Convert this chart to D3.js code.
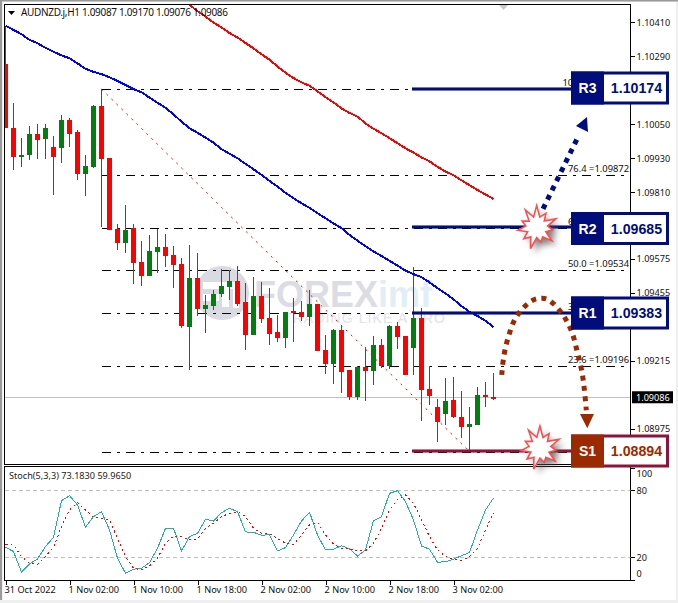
<!DOCTYPE html>
<html><head><meta charset="utf-8">
<script src="https://cdn.jsdelivr.net/npm/d3@7/dist/d3.min.js"></script>
<style>
html,body{margin:0;padding:0;background:#fff;overflow:hidden}
svg{display:block}
text{font-family:"Noto Sans",Tahoma,sans-serif}
</style></head><body><div id="chart"></div>
<script>
const opens=[1.10263,1.10037,1.09934,1.09941,1.10016,1.09998,1.09970,1.09966,1.10065,1.10023,1.09874,1.09899,1.10114,1.09931,1.09680,1.09631,1.09684,1.09564,1.09514,1.09599,1.09617,1.09588,1.09556,1.09334,1.09507,1.09398,1.09408,1.09451,1.09475,1.09496,1.09422,1.09306,1.09443,1.09366,1.09316,1.09295,1.09391,1.09387,1.09369,1.09415,1.09253,1.09203,1.09324,1.09182,1.09087,1.09193,1.09179,1.09271,1.09196,1.09338,1.09302,1.09260,1.09366,1.09115,1.09052,1.09027,1.09076,1.09016,1.08981,1.08988,1.09094,1.09087];
const highs=[1.10393,1.10125,1.10001,1.10044,1.10051,1.10051,1.10008,1.10083,1.10072,1.10030,1.09941,1.10118,1.10174,1.09931,1.09698,1.09765,1.09698,1.09638,1.09659,1.09680,1.09662,1.09620,1.09578,1.09624,1.09595,1.09447,1.09465,1.09539,1.09535,1.09549,1.09489,1.09511,1.09493,1.09472,1.09376,1.09387,1.09436,1.09426,1.09465,1.09415,1.09306,1.09327,1.09341,1.09182,1.09196,1.09263,1.09302,1.09292,1.09341,1.09352,1.09302,1.09546,1.09401,1.09196,1.09080,1.09154,1.09158,1.09108,1.09052,1.09122,1.09140,1.09170];
const lows=[1.10037,1.09888,1.09899,1.09924,1.09927,1.09927,1.09800,1.09913,1.09970,1.09853,1.09797,1.09896,1.09687,1.09677,1.09606,1.09595,1.09486,1.09479,1.09514,1.09525,1.09546,1.09472,1.09331,1.09182,1.09373,1.09313,1.09394,1.09440,1.09429,1.09408,1.09253,1.09306,1.09348,1.09271,1.09281,1.09260,1.09281,1.09355,1.09338,1.09249,1.09168,1.09133,1.09101,1.09076,1.09076,1.09073,1.09129,1.09189,1.09186,1.09256,1.09165,1.09165,1.09002,1.09059,1.08928,1.08988,1.09013,1.08942,1.08894,1.08988,1.09052,1.09076];
const closes=[1.10037,1.09934,1.09941,1.10016,1.09994,1.10037,1.09934,1.10065,1.10016,1.09874,1.09903,1.10114,1.09927,1.09677,1.09631,1.09677,1.09560,1.09514,1.09602,1.09617,1.09585,1.09553,1.09338,1.09507,1.09398,1.09412,1.09451,1.09479,1.09496,1.09415,1.09306,1.09443,1.09362,1.09309,1.09295,1.09387,1.09384,1.09369,1.09415,1.09249,1.09203,1.09324,1.09175,1.09087,1.09193,1.09179,1.09271,1.09196,1.09338,1.09299,1.09165,1.09366,1.09112,1.09090,1.08999,1.09073,1.09016,1.08981,1.08992,1.09094,1.09087,1.09086];
const maBlue=[1.10398,1.10383,1.10368,1.10348,1.10336,1.10320,1.10306,1.10293,1.10283,1.10265,1.10246,1.10235,1.10227,1.10216,1.10203,1.10189,1.10174,1.10163,1.10144,1.10126,1.10108,1.10085,1.10059,1.10036,1.10020,1.10003,1.09985,1.09962,1.09946,1.09930,1.09910,1.09891,1.09871,1.09850,1.09830,1.09808,1.09789,1.09771,1.09755,1.09736,1.09718,1.09700,1.09683,1.09659,1.09639,1.09619,1.09601,1.09585,1.09568,1.09551,1.09533,1.09521,1.09510,1.09492,1.09471,1.09453,1.09432,1.09408,1.09388,1.09373,1.09356,1.09334];
const maRedStart=22;
const maRed=[1.10495,1.10472,1.10449,1.10430,1.10409,1.10392,1.10372,1.10356,1.10337,1.10318,1.10297,1.10278,1.10254,1.10232,1.10213,1.10198,1.10186,1.10166,1.10146,1.10127,1.10106,1.10090,1.10077,1.10053,1.10034,1.10018,1.10001,1.09983,1.09965,1.09950,1.09933,1.09919,1.09900,1.09883,1.09870,1.09852,1.09835,1.09818,1.09802,1.09786];
const stochMain=[29,25.1,6.6,14,18.5,29.6,37.9,70.7,75.2,66.9,46.9,56.4,60.9,44.5,19.1,5.7,9.3,10.1,15.2,28.1,46,46,25.7,38.5,41.5,54,52.5,60,63.9,60.9,42.7,42.4,39.7,40.3,25.7,28.7,40,52.5,60.3,40,26.6,27.2,30.4,27.5,21.2,26.6,52.8,56.4,77.3,79.7,69.9,53.4,30.1,27.2,15.5,16.1,18.2,21.5,24.2,44.5,62.4,73.18];
const stochSignal=[31.3,31,20.6,14.6,13.7,20.6,29,47.5,62.4,69,62.4,55.8,54.9,53.4,37,20.6,10.1,8.7,12.2,19.1,32.5,39.1,38.5,35.5,36.1,46,50.4,56.4,59.4,60.9,56.4,46,41.5,40.9,37,32.5,31.6,40,49,51.3,40,31.9,28.1,27.5,26,25.7,32.5,46,62.4,71.9,75.8,68.4,53.4,38.5,26.6,20.6,18.2,17,20.6,28.1,44.5,59.97];
const priceTicks=[1.10410,1.10290,1.10050,1.09930,1.09810,1.09575,1.09455,1.09215,1.08975];
const stochTicks=[100,80,20,0];
const timeBars=[0,8,16,24,32,40,48,56];
const timeLabels=["31 Oct 2022","1 Nov 02:00","1 Nov 10:00","1 Nov 18:00","2 Nov 02:00","2 Nov 10:00","2 Nov 18:00","3 Nov 02:00"];
const fibPrices=[1.10174,1.09872,1.09685,1.09534,1.09383,1.09196,1.08894];
const fibLabels=["10","76.4 =1.09872","6","50.0 =1.09534","3","23.6 =1.09196",""];
const levelNames=["R3","R2","R1","S1"];
const levelPrices=[1.10174,1.09685,1.09383,1.08894];
const currentPrice=1.09086;
const upArrowBars=[67.19,71.56];
const upArrowPrices=[1.09751,1.10005];
const upHeadBars=[72.69,71.31,72.81];
const upHeadPrices=[1.10076,1.10044,1.10023];
const curveBars=[62.03,62.31,62.9,63.81,65.53,66.65,67.81,69.6,70.78,71.44,72.03,72.35,72.6];
const curvePrices=[1.09165,1.09235,1.09303,1.09368,1.09422,1.09435,1.09431,1.09380,1.09317,1.09250,1.09179,1.09114,1.09040];
const downHeadBars=[71.81,73.56,72.72];
const downHeadPrices=[1.09027,1.09027,1.08977];
const starRadii=[22,11,17,10,21,11,16,10,20,11,15,10,22,11,17,10,19,11,16,10,21,11];

const W=678,H=603,L=4.5,R=630.5,T=4.5,B=464.5,ST=466.5,SB=580.5;
const NAVY="#000d7a",MAROON="#8c1438",RUST="#9c2a00";
const x=d3.scaleLinear().domain([0,61]).range([5.5,493.5]);
const y=d3.scaleLinear().domain([1.10410,1.08975]).range([22.3,428.7]);
const ys=d3.scaleLinear().domain([0,100]).range([579.6,468]);
const svg=d3.select("#chart").append("svg").attr("width",W).attr("height",H);
const defs=svg.append("defs");
defs.append("clipPath").attr("id","mainClip").append("rect").attr("x",L).attr("y",T).attr("width",R-L).attr("height",B-T);
defs.append("clipPath").attr("id","stochClip").append("rect").attr("x",L).attr("y",ST).attr("width",R-L).attr("height",SB-ST);
defs.append("filter").attr("id","blur").attr("x","-40%").attr("y","-40%").attr("width","180%").attr("height","180%")
  .append("feGaussianBlur").attr("stdDeviation",3);

svg.append("rect").attr("width",W).attr("height",H).attr("fill","#efefef");
svg.append("rect").attr("x",3).attr("y",2).attr("width",673).attr("height",598).attr("fill","#fff");
svg.append("rect").attr("width",W).attr("height",1.5).attr("fill","#9a9a9a");
svg.append("rect").attr("width",2).attr("height",H-3).attr("fill","#9a9a9a");

const main=svg.append("g").attr("clip-path","url(#mainClip)");
// watermark
const wm=main.append("g");
wm.append("circle").attr("cx",222).attr("cy",293).attr("r",27).attr("fill","#dadae2");
wm.append("rect").attr("x",203).attr("y",282).attr("width",36).attr("height",7).attr("fill","#fff");
wm.append("rect").attr("x",203).attr("y",294).attr("width",16).attr("height",7).attr("fill","#fff");
wm.append("rect").attr("x",222).attr("y",289).attr("width",7).attr("height",18).attr("fill","#fff");
wm.append("rect").attr("x",233).attr("y",289).attr("width",6).attr("height",19).attr("fill","#fff");
const wt=wm.append("text").attr("x",254).attr("y",307).attr("font-size",36).attr("font-weight",700)
  .style("font-family","'Liberation Sans',sans-serif").attr("fill","#dcdce4");
wt.append("tspan").text("FOREX");
wt.append("tspan").attr("fill","#e2eef6").text("imf");
wm.append("text").attr("x",283).attr("y",323).attr("font-size",14).attr("letter-spacing",1.1)
  .style("font-family","'Liberation Sans',sans-serif").attr("fill","#e2e2e8").text("TRADING LIKE A PRO");

main.append("line").attr("x1",L).attr("x2",R).attr("y1",y(currentPrice)).attr("y2",y(currentPrice))
  .attr("stroke","#c0c0c0").attr("stroke-width",1).attr("shape-rendering","crispEdges");

// fibonacci
main.append("line").attr("x1",x(12)).attr("y1",y(fibPrices[0])).attr("x2",x(58)).attr("y2",y(fibPrices[6]))
  .attr("stroke","#f00").attr("stroke-width",1).attr("stroke-dasharray","2 5");
main.selectAll("line.fib").data(fibPrices).join("line").attr("class","fib")
  .attr("x1",x(12)).attr("x2",628.5).attr("y1",d=>Math.round(y(d))+.5).attr("y2",d=>Math.round(y(d))+.5)
  .attr("stroke","#000").attr("stroke-width",1).attr("stroke-dasharray","9 6 3 6").attr("shape-rendering","crispEdges");
main.selectAll("text.fibl").data(fibPrices).join("text").attr("class","fibl")
  .attr("x",(d,i)=>i==0?562.5:568).attr("y",d=>y(d)-3).attr("font-size",9.4).attr("fill","#111")
  .text((d,i)=>fibLabels[i]);

// candles
const candles=main.append("g").attr("shape-rendering","crispEdges");
const colorOf=i=>closes[i]>=opens[i]?"#007f0e":"#ff0000";
candles.selectAll("line").data(opens).join("line")
  .attr("x1",(d,i)=>x(i)).attr("x2",(d,i)=>x(i))
  .attr("y1",(d,i)=>y(highs[i])).attr("y2",(d,i)=>y(lows[i]))
  .attr("stroke",(d,i)=>colorOf(i)).attr("stroke-width",1);
candles.selectAll("rect").data(opens).join("rect")
  .attr("x",(d,i)=>x(i)-2.5).attr("width",5)
  .attr("y",(d,i)=>y(Math.max(opens[i],closes[i])))
  .attr("height",(d,i)=>Math.max(2,Math.abs(y(opens[i])-y(closes[i]))))
  .attr("fill",(d,i)=>colorOf(i));

const lineP=d3.line().x(d=>x(d[0])).y(d=>y(d[1]));
main.append("path").attr("d",lineP(maBlue.map((d,i)=>[i,d]))).attr("fill","none").attr("stroke","#0000ff").attr("stroke-width",2).attr("shape-rendering","crispEdges");
main.append("path").attr("d",lineP(maRed.map((d,i)=>[i+maRedStart,d]))).attr("fill","none").attr("stroke","#ff0000").attr("stroke-width",2).attr("shape-rendering","crispEdges");

// top triangle markers
svg.append("path").attr("fill","#c8c8c8").attr("d","M499 5L508 5L503.5 10Z");
svg.append("path").attr("fill","#000").attr("d","M8 11L15 11L11.5 15Z");

// level bars
const bars=main.append("g");
levelPrices.forEach((p,i)=>{
  const c=i==3?MAROON:NAVY;
  bars.append("line").attr("x1",412).attr("x2",575).attr("y1",y(p)-.5).attr("y2",y(p)-.5).attr("stroke",c).attr("stroke-width",4).attr("opacity",.55).attr("shape-rendering","crispEdges");
  bars.append("line").attr("x1",412).attr("x2",575).attr("y1",y(p)-.5).attr("y2",y(p)-.5).attr("stroke",c).attr("stroke-width",2).attr("shape-rendering","crispEdges");
});

// frames
svg.append("rect").attr("x",L).attr("y",T).attr("width",R-L).attr("height",B-T).attr("fill","none").attr("stroke","#000");
svg.append("rect").attr("x",L).attr("y",ST).attr("width",R-L).attr("height",SB-ST).attr("fill","none").attr("stroke","#000");

// header
svg.append("text").attr("x",21).attr("y",16).attr("font-size",10).attr("fill","#111")
  .attr("textLength",207).attr("lengthAdjust","spacing")
  .text("AUDNZD.j,H1  1.09087 1.09170 1.09076 1.09086");

// price axis
const axisY=d3.axisRight(y).tickValues(priceTicks).tickFormat(d3.format(".5f")).tickSize(4).tickPadding(2);
const ay=svg.append("g").attr("transform",`translate(${R},0)`).call(axisY);
ay.select(".domain").remove();
ay.selectAll("text").attr("font-size",9.1).attr("fill","#111").style("font-family",'"Noto Sans",sans-serif');
ay.selectAll("line").attr("stroke","#000").attr("shape-rendering","crispEdges");

// stochastic
const st=svg.append("g").attr("clip-path","url(#stochClip)");
st.selectAll("line").data([80,20]).join("line").attr("x1",L).attr("x2",R).attr("y1",d=>Math.round(ys(d))+.5).attr("y2",d=>Math.round(ys(d))+.5)
  .attr("stroke","#c0c0c0").attr("stroke-dasharray","4 3").attr("shape-rendering","crispEdges");
const lineS=d3.line().x((d,i)=>x(i)).y(d=>ys(d));
st.append("path").attr("d",lineS(stochMain)).attr("fill","none").attr("stroke","#20b2aa").attr("stroke-width",1).attr("shape-rendering","crispEdges");
st.append("path").attr("d",lineS(stochSignal)).attr("fill","none").attr("stroke","#ff0000").attr("stroke-width",1).attr("stroke-dasharray","2 3").attr("shape-rendering","crispEdges");
svg.append("text").attr("x",9).attr("y",479).attr("font-size",9.15).attr("fill","#222").text("Stoch(5,3,3) 73.1830 59.9650");
const axisS=d3.axisRight(ys).tickValues(stochTicks).tickFormat(d3.format("d")).tickSize(4).tickPadding(2);
const as=svg.append("g").attr("transform",`translate(${R},0)`).call(axisS);
as.select(".domain").remove();
as.selectAll("text").attr("font-size",9.1).attr("fill","#111").style("font-family",'"Noto Sans",sans-serif')
  .attr("dy",d=>d==100?"0.9em":d==0?"-0.35em":"0.32em");
as.selectAll("line").attr("stroke","#000").attr("shape-rendering","crispEdges");

// time axis
const axisX=d3.axisBottom(x).tickValues(timeBars).tickFormat((d,i)=>timeLabels[i]).tickSize(4).tickPadding(2);
const ax=svg.append("g").attr("transform",`translate(0,${SB})`).call(axisX);
ax.select(".domain").remove();
ax.selectAll("text").attr("font-size",9.2).attr("fill","#111").attr("text-anchor","start").attr("dx",-1.5).style("font-family",'"Noto Sans",sans-serif');
ax.selectAll("line").attr("stroke","#000").attr("shape-rendering","crispEdges");

// arrows
svg.append("line").attr("x1",x(upArrowBars[0])).attr("y1",y(upArrowPrices[0])).attr("x2",x(upArrowBars[1])).attr("y2",y(upArrowPrices[1]))
  .attr("stroke",NAVY).attr("stroke-width",5).attr("stroke-dasharray","5 5.3");
svg.append("path").attr("fill",NAVY).attr("d",d3.line().x(d=>x(d[0])).y(d=>y(d[1])).curve(d3.curveLinearClosed)(upHeadBars.map((b,i)=>[b,upHeadPrices[i]])));
svg.append("path").attr("fill","none").attr("stroke",RUST).attr("stroke-width",5).attr("stroke-dasharray","5 5.3")
  .attr("d",d3.line().x(d=>x(d[0])).y(d=>y(d[1])).curve(d3.curveCatmullRom)(curveBars.map((b,i)=>[b,curvePrices[i]])));
svg.append("path").attr("fill",RUST).attr("d",d3.line().x(d=>x(d[0])).y(d=>y(d[1])).curve(d3.curveLinearClosed)(downHeadBars.map((b,i)=>[b,downHeadPrices[i]])));

// stars
const star=d3.lineRadial().angle((d,i)=>i/starRadii.length*2*Math.PI).radius(d=>d).curve(d3.curveLinearClosed);
[[66.4,levelPrices[1]],[66.8,levelPrices[3]+0.00013]].forEach(([b,p])=>{
  const g=svg.append("g").attr("transform",`translate(${x(b)},${y(p)})`);
  g.append("path").attr("d",star(starRadii)).attr("fill","#555").attr("transform","translate(5,5)").attr("filter","url(#blur)").attr("opacity",.75);
  g.append("path").attr("d",star(starRadii)).attr("fill","#fff").attr("stroke","#ff4d4d").attr("stroke-width",1.6);
});

// level boxes
const boxCentres=[88,228.5,313,451];
levelNames.forEach((n,i)=>{
  const c=i==3?MAROON:NAVY, f=i==3?RUST:NAVY, cy=boxCentres[i];
  const g=svg.append("g");
  g.append("rect").attr("x",572.5).attr("y",cy-15).attr("width",95).attr("height",30).attr("fill","#fff").attr("stroke",c).attr("stroke-width",3);
  g.append("rect").attr("x",571).attr("y",cy-16.5).attr("width",33).attr("height",33).attr("fill",f);
  g.append("text").attr("x",587.5).attr("y",cy+5).attr("text-anchor","middle").attr("font-size",14).attr("font-weight",700)
    .style("font-family","'Liberation Sans',sans-serif").attr("fill","#fff").text(n);
  g.append("text").attr("x",636.5).attr("y",cy+5).attr("text-anchor","middle").attr("font-size",14.2).attr("font-weight",700)
    .style("font-family","'Liberation Sans',sans-serif").attr("fill",f).text(levelPrices[i].toFixed(5));
});

// current price tag
svg.append("rect").attr("x",632).attr("y",y(currentPrice)-6).attr("width",41).attr("height",12).attr("fill","#000");
svg.append("text").attr("x",636).attr("y",y(currentPrice)+3.5).attr("font-size",9.1).attr("fill","#fff").text(currentPrice.toFixed(5));
</script></body></html>
